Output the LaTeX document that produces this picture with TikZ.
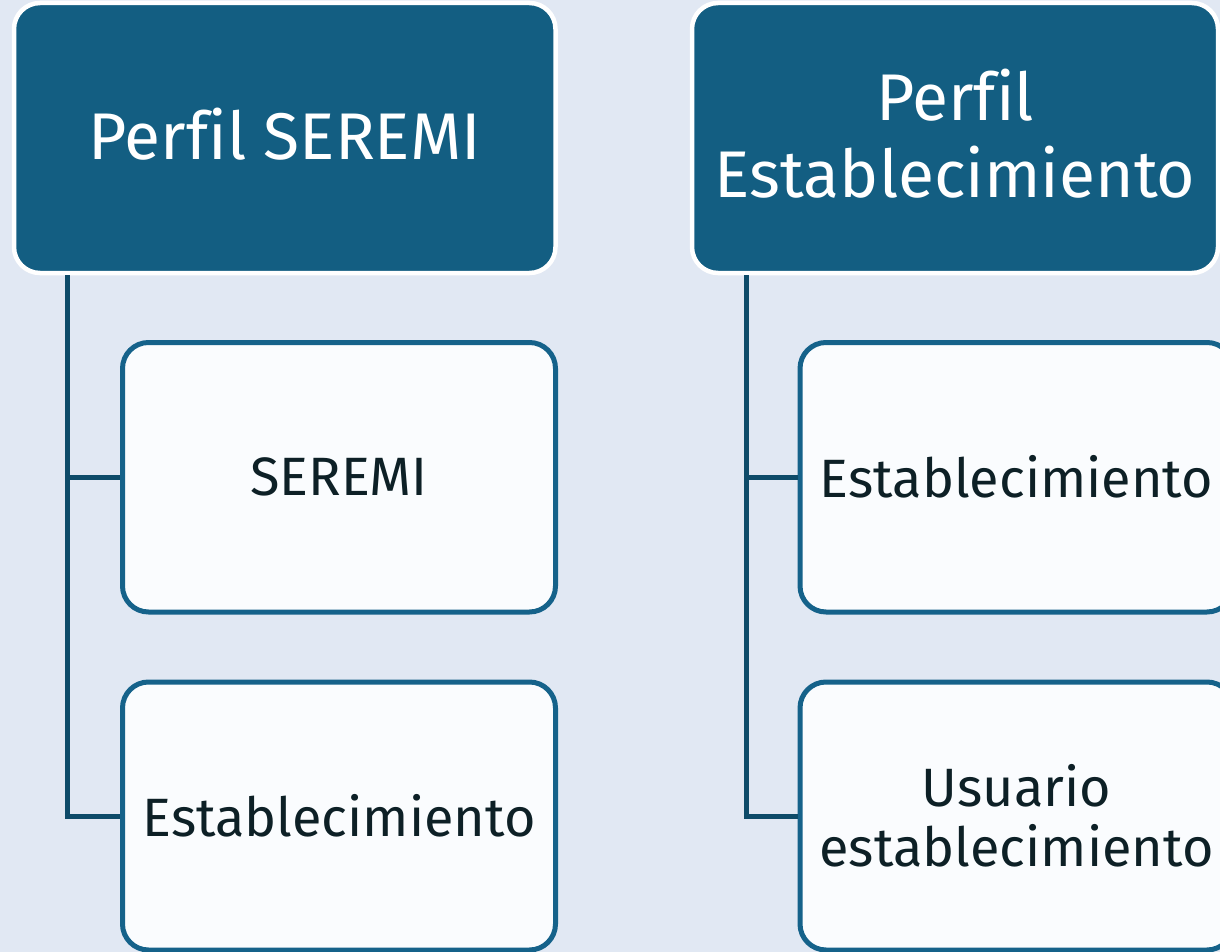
\documentclass[tikz,border=0pt]{standalone}
\usepackage{fontspec}
\setmainfont{Fira Sans}[Ligatures=NoCommon]
\usepackage{xcolor}
\definecolor{bgblue}{HTML}{E1E8F3}
\definecolor{topteal}{HTML}{135E82}
\definecolor{subline}{HTML}{15628A}
\definecolor{subfill}{HTML}{FAFCFE}
\definecolor{subtext}{HTML}{0D2026}
\definecolor{linkteal}{HTML}{0E4B69}
\begin{document}
\begin{tikzpicture}[x=1pt,y=-1pt,
  top/.style={draw=white,line width=4.5pt,fill=topteal,rounded corners=26pt,
    minimum height=270pt,text depth=9pt,text=white,align=center,font=\fontsize{66}{77}\selectfont},
  sub/.style={draw=subline,line width=5pt,fill=subfill,rounded corners=26pt,
    minimum width=433pt,text=subtext,align=center,font=\fontsize{54}{60}\selectfont},
  link/.style={draw=linkteal,line width=5pt}]
\fill[bgblue] (0,0) rectangle (1220,952);
\useasboundingbox (0,0) rectangle (1220,952);
\node[top,minimum width=541.5pt](pseremi) at (284.75,138){Perfil SEREMI};
\node[top,minimum width=526pt](pestab) at (955,138){Perfil\\Establecimiento};
\node[sub,minimum height=269.5pt](seremi) at (339,477.25){SEREMI};
\node[sub,minimum height=268pt](estab) at (339,816){Establecimiento};
\node[sub,minimum height=269.5pt](estabb) at (1016.5,477.25){Establecimiento};
\node[sub,minimum height=268pt](usuario) at (1016.5,816){Usuario\\establecimiento};
\draw[link] ([xshift=-217.25pt]pseremi.south) |- (seremi.west);
\draw[link] ([xshift=-217.25pt]pseremi.south) |- (estab.west);
\draw[link] ([xshift=-209pt]pestab.south) |- (estabb.west);
\draw[link] ([xshift=-209pt]pestab.south) |- (usuario.west);
\end{tikzpicture}
\end{document}
